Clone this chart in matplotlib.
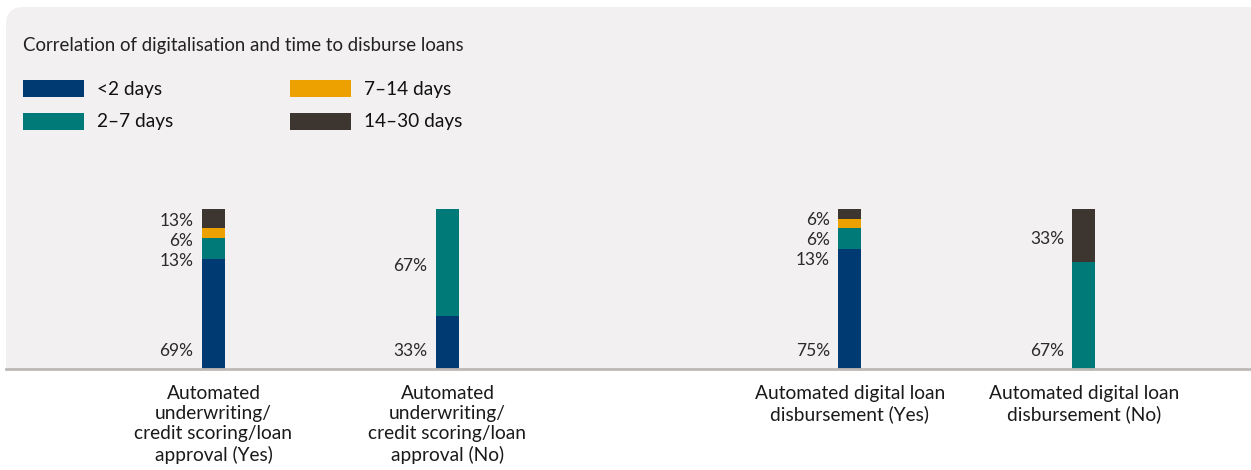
import numpy as np
import matplotlib.pyplot as plt
from matplotlib.patches import FancyBboxPatch, Rectangle

plt.rcParams['font.family'] = ['Lato', 'DejaVu Sans']

# data
categories = ['Automated\nunderwriting/\ncredit scoring/loan\napproval (Yes)',
              'Automated\nunderwriting/\ncredit scoring/loan\napproval (No)',
              'Automated digital loan\ndisbursement (Yes)',
              'Automated digital loan\ndisbursement (No)']
series = ['<2 days', '2–7 days', '7–14 days', '14–30 days']
under2 = [69, 33, 75, 0]
d2_7 = [13, 67, 13, 67]
d7_14 = [6, 0, 6, 0]
d14_30 = [13, 0, 6, 33]
colors = ['#003a73', '#007a78', '#eda100', '#3d3530']

values = np.array([under2, d2_7, d7_14, d14_30])

W, H = 1251, 470
base = 369  # baseline, pixels from top
fig = plt.figure(figsize=(W / 100, H / 100), dpi=100)
fig.patch.set_facecolor('white')

# background panel (rounded top corners, cut at the baseline)
fig.patches.append(FancyBboxPatch((6 / W, (H - base) / H - 0.1), (W - 6) / W + 0.05,
                                  (base - 7) / H + 0.1,
                                  boxstyle='round,pad=0,rounding_size=0.014',
                                  transform=fig.transFigure, facecolor='#f2f0f1',
                                  edgecolor='none', zorder=0, mutation_aspect=W / H))
fig.patches.append(Rectangle((0, 0), 1, (H - base) / H, transform=fig.transFigure,
                             facecolor='white', edgecolor='none', zorder=0.5))

positions = [0, 1, 2.72, 3.72]
unit = 234.0
x0 = 213.5
ax = fig.add_axes([0, (H - base) / H, 1, 160 / H])
ax.set_zorder(2)
ax.set_facecolor('none')
ax.set_xlim(-x0 / unit, (W - x0) / unit)
ax.set_ylim(0, 100)
ax.axis('off')

bottoms = np.zeros(4)
for vals, col in zip(values, colors):
    ax.bar(positions, vals, width=23 / unit, bottom=bottoms, color=col, linewidth=0, zorder=3)
    bottoms = bottoms + vals

lab_kw = dict(ha='right', va='center', fontsize=12.5, color='#2a2a2a')
for i, p in enumerate(positions):
    col_vals = values[:, i]
    total = col_vals.sum()
    nz = [k for k in range(4) if col_vals[k] > 0]
    ax.text(p - 20 / unit, 11, f'{col_vals[nz[0]]}%', **lab_kw)
    prev = total + 5.5
    starts = np.concatenate([[0], np.cumsum(col_vals)])
    for k in reversed(nz[1:]):
        c = (starts[k] + starts[k + 1]) / 2
        y = min(c - 2, prev - 12.5)
        prev = y
        ax.text(p - 20 / unit, y, f'{col_vals[k]}%', **lab_kw)
    ax.text(p, -10, categories[i], ha='center', va='top', fontsize=13.8,
            color='#1a1a1a', linespacing=1.22, clip_on=False)

# baseline
fig.add_artist(plt.Line2D([6 / W, 1], [(H - base) / H] * 2, transform=fig.transFigure,
                          color='#bfb9b5', linewidth=2, zorder=4))

# title and legend
fig.text(23 / W, 1 - 46 / H, 'Correlation of digitalisation and time to disburse loans',
         ha='left', va='center', fontsize=13.4, color='#222222')
leg_pos = [(23, 89), (23, 121), (290, 89), (290, 121)]
for (lx, ly), name, col in zip(leg_pos, series, colors):
    fig.patches.append(Rectangle((lx / W, 1 - (ly + 8.5) / H), 61 / W, 17 / H,
                                 transform=fig.transFigure, facecolor=col,
                                 edgecolor='none', zorder=1))
    fig.text((lx + 74) / W, 1 - ly / H, name, ha='left', va='center', fontsize=13.7,
             color='#111111')

fig.savefig('out.png', dpi=100, facecolor='white')
